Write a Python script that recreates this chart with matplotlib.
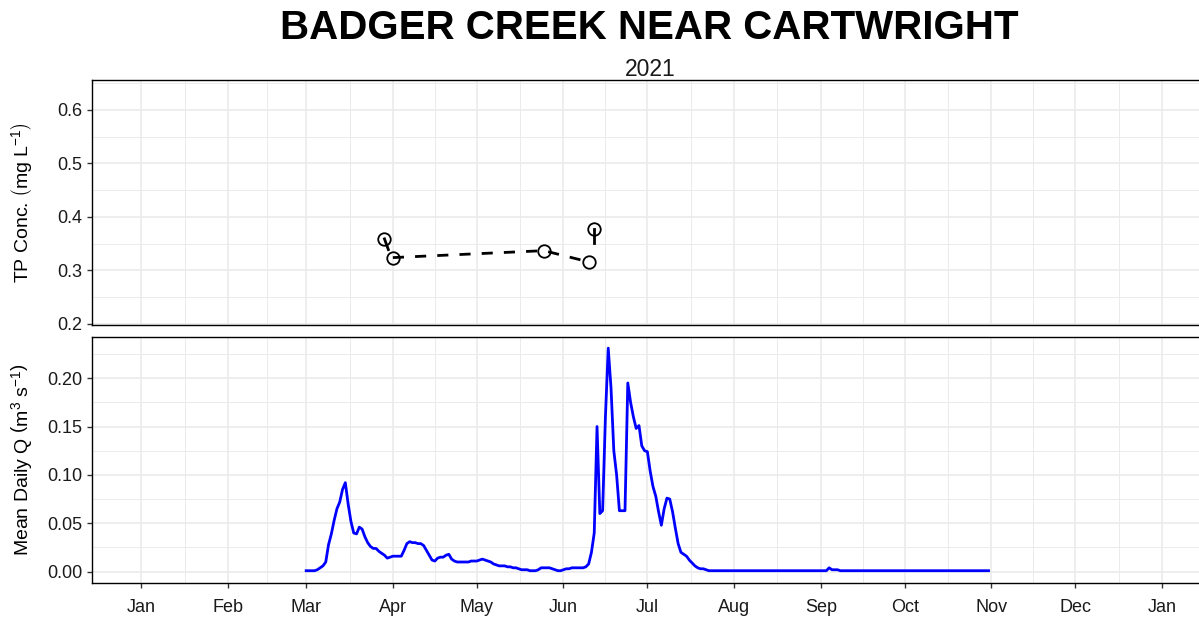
import matplotlib
matplotlib.use('Agg')
import matplotlib.pyplot as plt
import matplotlib.dates as mdates
import pandas as pd

plt.rcParams['font.family'] = ['Liberation Sans', 'DejaVu Sans']
plt.rcParams['mathtext.fontset'] = 'custom'
plt.rcParams['mathtext.rm'] = 'Liberation Sans'
plt.rcParams['mathtext.it'] = 'Liberation Sans:italic'

TITLE = 'BADGER CREEK NEAR CARTWRIGHT'
SUBTITLE = '2021'

# TP samples
tp_dates = ['2021-03-29', '2021-04-01', '2021-05-25', '2021-06-10', '2021-06-12']
tp_conc = [0.359, 0.324, 0.337, 0.316, 0.378]
dashed_idx = [1, 2, 3]
# short solid stems
stem_x0 = ['2021-03-29 00:00', '2021-06-12 00:00']
stem_y0 = [0.359, 0.378]
stem_x1 = ['2021-03-30 09:00', '2021-06-12 00:00']
stem_y1 = [0.339, 0.352]

# mean daily flow, one value per day from Mar 1
flow_start = '2021-03-01'
q_mar = [0.001, 0.001, 0.001, 0.001, 0.002, 0.004, 0.006, 0.010, 0.028, 0.039,
         0.053, 0.065, 0.072, 0.085, 0.092, 0.070, 0.052, 0.040, 0.039, 0.046,
         0.044, 0.036, 0.030, 0.026, 0.024, 0.024, 0.021, 0.019, 0.017, 0.014, 0.015]
q_apr = [0.016, 0.016, 0.016, 0.016, 0.022, 0.029, 0.031, 0.030, 0.030, 0.029,
         0.029, 0.027, 0.022, 0.017, 0.012, 0.011, 0.014, 0.015, 0.015, 0.017,
         0.018, 0.013, 0.011, 0.010, 0.010, 0.010, 0.010, 0.010, 0.011, 0.011]
q_may = [0.011, 0.012, 0.013, 0.012, 0.011, 0.010, 0.008, 0.007, 0.006, 0.006,
         0.006, 0.005, 0.005, 0.004, 0.004, 0.003, 0.002, 0.002, 0.002, 0.001,
         0.001, 0.001, 0.002, 0.004, 0.004, 0.004, 0.004, 0.003, 0.002, 0.001, 0.001]
q_jun = [0.002, 0.003, 0.003, 0.004, 0.004, 0.004, 0.004, 0.004, 0.005, 0.008,
         0.020, 0.040, 0.150, 0.060, 0.063, 0.160, 0.231, 0.190, 0.125, 0.100,
         0.063, 0.063, 0.063, 0.195, 0.175, 0.160, 0.148, 0.151, 0.130, 0.125]
q_jul = [0.124, 0.104, 0.088, 0.078, 0.062, 0.048, 0.065, 0.076, 0.075, 0.062,
         0.045, 0.029, 0.020, 0.018, 0.016, 0.012, 0.009, 0.006, 0.004, 0.003,
         0.003, 0.002, 0.001, 0.001, 0.001, 0.001, 0.001, 0.001, 0.001, 0.001, 0.001]
q_aug = [0.001] * 31
q_sep = [0.001, 0.001, 0.001, 0.004, 0.002, 0.002, 0.002, 0.001, 0.001, 0.001,
         0.001, 0.001, 0.001, 0.001, 0.001, 0.001, 0.001, 0.001, 0.001, 0.001,
         0.001, 0.001, 0.001, 0.001, 0.001, 0.001, 0.001, 0.001, 0.001, 0.001]
q_oct = [0.001] * 31

flow = q_mar + q_apr + q_may + q_jun + q_jul + q_aug + q_sep + q_oct
flow_dates = pd.date_range(flow_start, periods=len(flow), freq='D')
tp_dt = pd.to_datetime(tp_dates)

month_starts = pd.date_range('2021-01-01', '2022-01-01', freq='MS')
mid_months = month_starts[:-1] + (month_starts[1:] - month_starts[:-1]) / 2
xlim = (pd.Timestamp('2020-12-14 10:00'), pd.Timestamp('2022-01-19 06:00'))

GRID = '#ebebeb'
TXT = '#1a1a1a'


def style(ax):
    ax.set_xlim(xlim)
    ax.set_xticks(month_starts)
    ax.set_xticks(mid_months, minor=True)
    ax.grid(True, which='major', color=GRID, lw=1.2)
    ax.grid(True, which='minor', color=GRID, lw=0.7)
    ax.set_axisbelow(True)
    for s in ax.spines.values():
        s.set_color('black')
        s.set_linewidth(1.0)
    ax.tick_params(axis='both', which='major', length=3.5, width=1.0,
                   color='#333333', labelsize=13, labelcolor=TXT)
    ax.tick_params(axis='both', which='minor', length=0)


fig = plt.figure(figsize=(11.99, 6.19), dpi=100)
left = 92 / 1199
width = (1213 - 92) / 1199
ax1 = fig.add_axes([left, 1 - 325 / 619, width, 245 / 619])
ax2 = fig.add_axes([left, 1 - 583 / 619, width, 246 / 619])

# top panel: TP concentration
style(ax1)
ax1.set_ylim(0.198, 0.656)
ax1.set_yticks([0.2, 0.3, 0.4, 0.5, 0.6])
ax1.set_yticks([0.25, 0.35, 0.45, 0.55, 0.65], minor=True)
ax1.set_yticklabels(['0.2', '0.3', '0.4', '0.5', '0.6'])
ax1.tick_params(axis='x', which='both', bottom=False, labelbottom=False)
ax1.plot(tp_dt[dashed_idx], [tp_conc[i] for i in dashed_idx], color='black',
         lw=2.0, ls=(0, (4, 4)), zorder=3)
for x0, y0, x1, y1 in zip(stem_x0, stem_y0, stem_x1, stem_y1):
    ax1.plot(pd.to_datetime([x0, x1]), [y0, y1], color='black', lw=2.0, zorder=3)
ax1.plot(tp_dt, tp_conc, 'o', ms=9, mfc='none', mec='black', mew=1.3, zorder=4)
ax1.set_ylabel(r'TP Conc. $\left(\mathrm{mg\ L^{-1}}\right)$', fontsize=14, color='black')
ax1.yaxis.set_label_coords(-0.052, 0.5)

# bottom panel: flow
style(ax2)
ax2.set_ylim(-0.0117, 0.2425)
ax2.set_yticks([0.0, 0.05, 0.10, 0.15, 0.20])
ax2.set_yticks([0.025, 0.075, 0.125, 0.175, 0.225], minor=True)
ax2.set_yticklabels(['0.00', '0.05', '0.10', '0.15', '0.20'])
ax2.xaxis.set_major_formatter(mdates.DateFormatter('%b'))
ax2.tick_params(axis='x', which='major', pad=8)
ax2.plot(flow_dates, flow, color='#0000ff', lw=2.0)
ax2.set_ylabel(r'Mean Daily Q $\left(\mathrm{m^{3}\ s^{-1}}\right)$', fontsize=14, color='black')
ax2.yaxis.set_label_coords(-0.052, 0.5)

fig.text(649 / 1199, 1 - 28 / 619, TITLE, ha='center', va='center',
         fontsize=29, fontweight='bold', color='black')
fig.text(650 / 1199, 1 - 69 / 619, SUBTITLE, ha='center', va='center',
         fontsize=16.5, color=TXT)

fig.savefig('out.png', dpi=100)
